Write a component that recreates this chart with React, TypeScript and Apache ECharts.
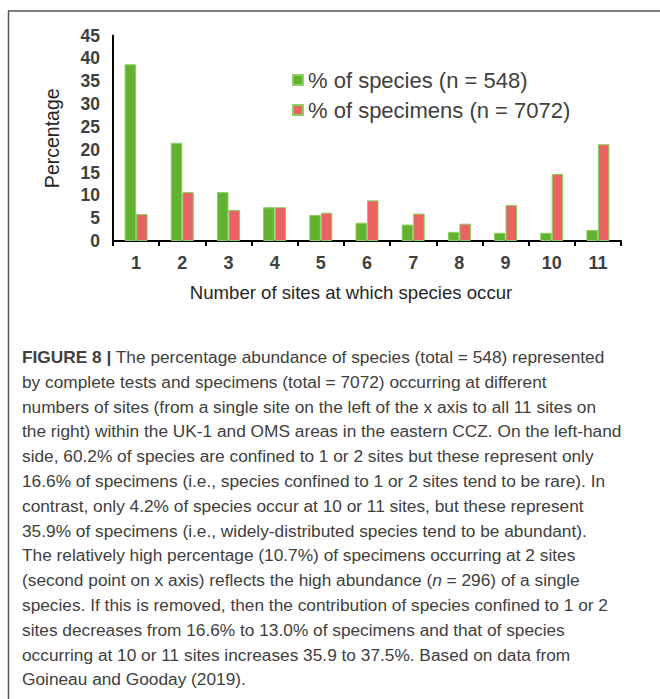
import React, { useEffect, useRef } from "react";
import * as echarts from "echarts";

const categories = ["1", "2", "3", "4", "5", "6", "7", "8", "9", "10", "11"];
const speciesPct = [38.7, 21.5, 10.7, 7.4, 5.7, 4.0, 3.6, 2.0, 1.8, 1.8, 2.4];
const specimensPct = [5.9, 10.7, 6.8, 7.4, 6.2, 8.9, 6.0, 3.8, 7.9, 14.7, 21.2];
const seriesNames = ["% of species (n = 548)", "% of specimens (n = 7072)"];
const yTicks = { min: 0, max: 45, interval: 5 };
const xTitle = "Number of sites at which species occur";
const yTitle = "Percentage";
const captionLines = [
  "{b|FIGURE 8 |} The percentage abundance of species (total = 548) represented",
  "by complete tests and specimens (total = 7072) occurring at different",
  "numbers of sites (from a single site on the left of the x axis to all 11 sites on",
  "the right) within the UK-1 and OMS areas in the eastern CCZ. On the left-hand",
  "side, 60.2% of species are confined to 1 or 2 sites but these represent only",
  "16.6% of specimens (i.e., species confined to 1 or 2 sites tend to be rare). In",
  "contrast, only 4.2% of species occur at 10 or 11 sites, but these represent",
  "35.9% of specimens (i.e., widely-distributed species tend to be abundant).",
  "The relatively high percentage (10.7%) of specimens occurring at 2 sites",
  "(second point on x axis) reflects the high abundance ({i|n} = 296) of a single",
  "species. If this is removed, then the contribution of species confined to 1 or 2",
  "sites decreases from 16.6% to 13.0% of specimens and that of species",
  "occurring at 10 or 11 sites increases 35.9 to 37.5%. Based on data from",
  "{g|Goineau and Gooday (2019)}.",
];

const AXIS_FONT = "'Liberation Sans', Arial, sans-serif";
const CAP_FONT = "'Liberation Sans', Arial, sans-serif";
const CAP_SIZE = 17.3;

export default function App() {
  const ref = useRef<HTMLDivElement>(null);
  useEffect(() => {
    if (!ref.current) return;
    const chart = echarts.init(ref.current, undefined, { renderer: "svg" });
    const capColor = "#404040";
    const option: any = {
      animation: false,
      backgroundColor: "#ffffff",
      grid: { left: 113, right: 39, top: 35.5, bottom: 458, containLabel: false },
      legend: {
        orient: "vertical",
        left: 287,
        top: 64,
        itemWidth: 10,
        itemHeight: 10,
        itemGap: 8,
        icon: "rect",
        textStyle: { fontFamily: AXIS_FONT, fontSize: 22, color: "#404040", lineHeight: 22 },
        data: seriesNames,
      },
      xAxis: {
        type: "category",
        data: categories,
        boundaryGap: true,
        axisLine: { show: true, lineStyle: { color: "#000", width: 2 } },
        axisTick: { show: true, length: 5, lineStyle: { color: "#000", width: 2 } },
        axisLabel: { fontFamily: AXIS_FONT, fontSize: 18, fontWeight: "bold", color: "#404040", margin: 13 },
        name: xTitle,
        nameLocation: "middle",
        nameGap: 42,
        nameTextStyle: { fontFamily: AXIS_FONT, fontSize: 18.6, color: "#262626", padding: [0, 32, 0, 0] },
      },
      yAxis: {
        type: "value",
        min: yTicks.min,
        max: yTicks.max,
        interval: yTicks.interval,
        axisLine: { show: true, lineStyle: { color: "#000", width: 2 } },
        axisTick: { show: false },
        splitLine: { show: false },
        axisLabel: { fontFamily: AXIS_FONT, fontSize: 17.5, fontWeight: "bold", color: "#404040", margin: 13 },
        name: yTitle,
        nameLocation: "middle",
        nameGap: 51,
        nameTextStyle: { fontFamily: AXIS_FONT, fontSize: 19.5, color: "#262626" },
      },
      series: [
        {
          name: seriesNames[0],
          type: "bar",
          data: speciesPct,
          barWidth: 11.5,
          barGap: "0%",
          itemStyle: { color: "#63b22f", borderColor: "#8ad160", borderWidth: 1 },
        },
        {
          name: seriesNames[1],
          type: "bar",
          data: specimensPct,
          barWidth: 11.5,
          barGap: "0%",
          itemStyle: { color: "#ea6262", borderColor: "#8ad160", borderWidth: 1 },
        },
      ],
      graphic: [
        { type: "line", shape: { x1: 8, y1: 11, x2: 660, y2: 11 }, style: { stroke: "#555", lineWidth: 1.5 } },
        { type: "line", shape: { x1: 8.5, y1: 11, x2: 8.5, y2: 699 }, style: { stroke: "#555", lineWidth: 1.5 } },
        ...captionLines.map((line, i) => ({
          type: "text",
          x: 22,
          y: 357 + i * 24.8,
          style: {
            text: line,
            fontFamily: CAP_FONT,
            fontSize: CAP_SIZE,
            fill: capColor,
            verticalAlign: "middle",
            align: "left",
            rich: {
              b: { fontFamily: CAP_FONT, fontSize: CAP_SIZE, fontWeight: "bold", color: "#262626" },
              i: { fontFamily: CAP_FONT, fontSize: CAP_SIZE, fontStyle: "italic", color: capColor },
              g: { fontFamily: CAP_FONT, fontSize: CAP_SIZE, color: "#9a9a9a" },
            },
          },
        })),
      ],
    };
    chart.setOption(option);
    return () => chart.dispose();
  }, []);
  return (
    <div
      ref={ref}
      style={{ position: "fixed", left: 0, top: 0, width: 660, height: 699, background: "#fff" }}
    />
  );
}
